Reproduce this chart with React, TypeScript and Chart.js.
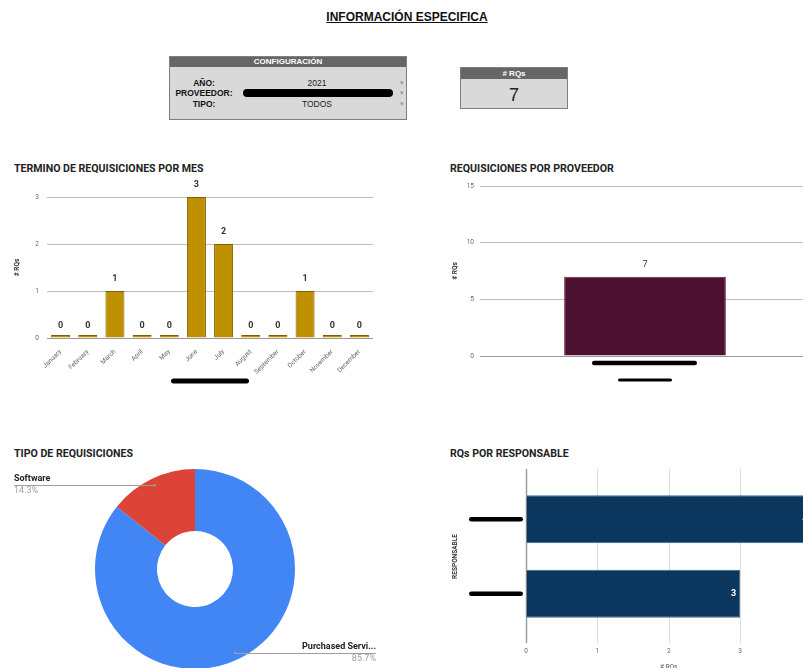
import React, { useEffect, useRef } from 'react';
import { Chart, registerables } from 'chart.js';

Chart.register(...registerables);
Chart.defaults.font.family = 'Roboto';

// ---------- DATA ----------
const pageTitle = 'INFORMACIÓN ESPECIFICA';
const configYear = '2021';
const configType = 'TODOS';
const totalRQs = 7;

const monthLabels = ['January', 'February', 'March', 'April', 'May', 'June', 'July', 'August', 'September', 'October', 'November', 'December'];
const monthValues = [0, 0, 1, 0, 0, 3, 2, 0, 0, 1, 0, 0];
const monthTicks = [0, 1, 2, 3];

const providerLabels = ['Proveedor'];
const providerValues = [7];
const providerTicks = [0, 5, 10, 15];

const typeLabels = ['Purchased Services', 'Software'];
const typeValues = [6, 1];

const responsableLabels = ['Responsable 1', 'Responsable 2'];
const responsableValues = [4, 3];
const responsableTicks = [0, 1, 2, 3, 4];

// ---------- HELPERS ----------
function blob(ctx: CanvasRenderingContext2D, x1: number, x2: number, y: number, h: number) {
  ctx.save();
  ctx.fillStyle = '#000';
  ctx.beginPath();
  ctx.roundRect(x1, y - h / 2, x2 - x1, h, h / 2);
  ctx.fill();
  ctx.restore();
}

const tickFont = { size: 6.5 };
const tickColor = '#666';

function topLabels(font: string, color: string, offset: number) {
  return {
    id: 'topLabels',
    afterDatasetsDraw(chart: any) {
      const { ctx } = chart;
      const yScale = chart.scales.y;
      const meta = chart.getDatasetMeta(0);
      const data = chart.data.datasets[0].data as number[];
      ctx.save();
      ctx.font = font;
      ctx.fillStyle = color;
      ctx.textAlign = 'center';
      ctx.textBaseline = 'middle';
      meta.data.forEach((bar: any, i: number) => {
        ctx.fillText(String(data[i]), bar.x, yScale.getPixelForValue(data[i]) - offset);
      });
      ctx.restore();
    },
  };
}

function ChartCanvas({ left, top, width, height, build }: any) {
  const ref = useRef<HTMLCanvasElement>(null);
  useEffect(() => {
    const chart = new Chart(ref.current as HTMLCanvasElement, build());
    return () => chart.destroy();
  }, []);
  return (
    <div style={{ position: 'absolute', left, top, width, height }}>
      <canvas ref={ref} width={width} height={height} style={{ width, height, display: 'block' }} />
    </div>
  );
}

// ---------- CHART CONFIGS ----------
function buildMonths(): any {
  return {
    type: 'bar',
    data: {
      labels: monthLabels,
      datasets: [{
        data: monthValues,
        backgroundColor: '#bf9000',
        borderColor: '#7f6000',
        borderWidth: 1,
        minBarLength: 3,
        categoryPercentage: 1,
        barPercentage: 0.7,
      }],
    },
    options: {
      responsive: false,
      animation: false,
      events: [],
      layout: { padding: { left: 0, right: 27, top: 37, bottom: 0 } },
      plugins: { legend: { display: false }, tooltip: { enabled: false } },
      scales: {
        x: {
          grid: { display: false },
          border: { display: false },
          ticks: { font: tickFont, color: tickColor, minRotation: 45, maxRotation: 45, autoSkip: false, padding: 2 },
          afterFit: (s: any) => { s.height = 57; },
        },
        y: {
          min: monthTicks[0],
          max: monthTicks[monthTicks.length - 1],
          ticks: { stepSize: monthTicks[1] - monthTicks[0], font: tickFont, color: tickColor, padding: 8 },
          grid: { color: (c: any) => (c.tick && c.tick.value === 0 ? '#999' : '#bdbdbd'), drawTicks: false },
          border: { display: false },
          title: { display: true, text: '# RQs', font: { size: 6.5, weight: 'bold' }, color: '#333', padding: { top: 13, bottom: 0 } },
          afterFit: (s: any) => { s.width = 47; },
        },
      },
    },
    plugins: [
      topLabels('bold 9px Roboto', '#333', 12),
      {
        id: 'axisBlob',
        afterDraw(chart: any) {
          const a = chart.chartArea;
          const cx = (a.left + a.right) / 2;
          blob(chart.ctx, cx - 39, cx + 39, a.bottom + 43, 5);
        },
      },
    ],
  };
}

function buildProvider(): any {
  return {
    type: 'bar',
    data: {
      labels: providerLabels,
      datasets: [{
        data: providerValues,
        backgroundColor: '#4c1130',
        borderColor: '#741b47',
        borderWidth: 1,
        categoryPercentage: 1,
        barPercentage: 0.49,
      }],
    },
    options: {
      responsive: false,
      animation: false,
      events: [],
      layout: { padding: { left: 0, right: 10, top: 26, bottom: 0 } },
      plugins: { legend: { display: false }, tooltip: { enabled: false } },
      scales: {
        x: {
          grid: { display: false },
          border: { display: false },
          ticks: { display: false },
          afterFit: (s: any) => { s.height = 39; },
        },
        y: {
          min: providerTicks[0],
          max: providerTicks[providerTicks.length - 1],
          ticks: { stepSize: providerTicks[1] - providerTicks[0], font: tickFont, color: tickColor, padding: 6 },
          grid: { color: (c: any) => (c.tick && c.tick.value === 0 ? '#999' : '#bdbdbd'), drawTicks: false },
          border: { display: false },
          title: { display: true, text: '# RQs', font: { size: 6.5, weight: 'bold' }, color: '#333', padding: { top: 11, bottom: 0 } },
          afterFit: (s: any) => { s.width = 40; },
        },
      },
    },
    plugins: [
      topLabels('9px Roboto', '#333', 12),
      {
        id: 'tickBlob',
        afterDraw(chart: any) {
          const a = chart.chartArea;
          const x = chart.scales.x;
          providerLabels.forEach((_, i) => {
            const cx = x.getPixelForValue(i);
            blob(chart.ctx, cx - 53, cx + 52, a.bottom + 7, 4.5);
            blob(chart.ctx, cx - 27, cx + 27, a.bottom + 24, 3);
          });
        },
      },
    ],
  };
}

function buildTypes(): any {
  const total = typeValues.reduce((s, v) => s + v, 0);
  return {
    type: 'doughnut',
    data: {
      labels: typeLabels,
      datasets: [{
        data: typeValues,
        backgroundColor: ['#4285f4', '#db4437'],
        borderWidth: 0,
      }],
    },
    options: {
      responsive: false,
      animation: false,
      events: [],
      cutout: '38%',
      layout: { padding: { left: 95, right: 105, top: 29, bottom: 11 } },
      plugins: { legend: { display: false }, tooltip: { enabled: false } },
    },
    plugins: [
      {
        id: 'leaderLabels',
        afterDraw(chart: any) {
          const { ctx } = chart;
          const meta = chart.getDatasetMeta(0);
          meta.data.forEach((arc: any, i: number) => {
            const p = arc.getProps(['x', 'y', 'startAngle', 'endAngle', 'outerRadius'], true);
            const mid = (p.startAngle + p.endAngle) / 2;
            const r = p.outerRadius * 0.93;
            const px = p.x + Math.cos(mid) * r;
            const py = p.y + Math.sin(mid) * r;
            const isLeft = px < p.x;
            const edge = isLeft ? 14 : 376;
            ctx.save();
            ctx.strokeStyle = '#9e9e9e';
            ctx.lineWidth = 1;
            ctx.beginPath();
            ctx.moveTo(edge, Math.round(py) + 0.5);
            ctx.lineTo(px, Math.round(py) + 0.5);
            ctx.stroke();
            ctx.fillStyle = '#9e9e9e';
            ctx.beginPath();
            ctx.arc(px, py, 1.2, 0, Math.PI * 2);
            ctx.fill();
            ctx.font = 'bold 9px Roboto';
            let name = typeLabels[i];
            const maxW = 78;
            if (ctx.measureText(name).width > maxW) {
              while (name.length > 1 && ctx.measureText(name + '...').width > maxW) name = name.slice(0, -1);
              name = name + '...';
            }
            ctx.textAlign = isLeft ? 'left' : 'right';
            ctx.textBaseline = 'middle';
            ctx.fillStyle = '#222';
            ctx.fillText(name, edge, py - 6);
            ctx.font = '9px Roboto';
            ctx.fillStyle = '#9e9e9e';
            ctx.fillText(((typeValues[i] / total) * 100).toFixed(1) + '%', edge, py + 6);
            ctx.restore();
          });
        },
      },
    ],
  };
}

function buildResponsable(): any {
  return {
    type: 'bar',
    data: {
      labels: responsableLabels,
      datasets: [{
        data: responsableValues,
        backgroundColor: '#0b375f',
        borderColor: '#3c6a96',
        borderWidth: 1,
        categoryPercentage: 1,
        barPercentage: 0.645,
      }],
    },
    options: {
      indexAxis: 'y',
      responsive: false,
      animation: false,
      events: [],
      layout: { padding: { left: 0, right: 8.5, top: 42, bottom: 9 } },
      plugins: { legend: { display: false }, tooltip: { enabled: false } },
      scales: {
        x: {
          min: responsableTicks[0],
          max: responsableTicks[responsableTicks.length - 1],
          ticks: { stepSize: 1, font: tickFont, color: tickColor, padding: 0 },
          grid: { display: true, color: 'rgba(0,0,0,0)', drawTicks: true, tickLength: 16 },
          border: { display: false },
          title: { display: true, text: '# RQs', font: { size: 6.5 }, color: '#555', padding: { top: 0, bottom: 0 } },
          afterFit: (s: any) => { s.height = 40; },
        },
        y: {
          ticks: { display: false },
          grid: { display: false },
          border: { display: false },
          title: { display: true, text: 'RESPONSABLE', font: { size: 6.5, weight: 'bold' }, color: '#333', padding: { top: 11, bottom: 0 } },
          afterFit: (s: any) => { s.width = 86; },
        },
      },
    },
    plugins: [
      {
        id: 'extGrid',
        beforeDatasetsDraw(chart: any) {
          const { ctx, chartArea: a } = chart;
          const x = chart.scales.x;
          ctx.save();
          x.ticks.forEach((t: any) => {
            const px = Math.round(x.getPixelForValue(t.value)) + 0.5;
            ctx.strokeStyle = t.value === 0 ? '#9e9e9e' : '#dcdcdc';
            ctx.lineWidth = t.value === 0 ? 1.5 : 1;
            ctx.beginPath();
            ctx.moveTo(px, a.top - 13);
            ctx.lineTo(px, a.bottom + 12);
            ctx.stroke();
          });
          ctx.restore();
        },
      },
      {
        id: 'barLabels',
        afterDatasetsDraw(chart: any) {
          const { ctx, chartArea: a } = chart;
          const y = chart.scales.y;
          const meta = chart.getDatasetMeta(0);
          ctx.save();
          ctx.font = 'bold 9px Roboto';
          ctx.fillStyle = '#fff';
          ctx.textAlign = 'right';
          ctx.textBaseline = 'middle';
          meta.data.forEach((bar: any, i: number) => {
            ctx.fillText(String(responsableValues[i]), bar.x - 4, bar.y);
          });
          ctx.restore();
          responsableLabels.forEach((_, i) => {
            const cy = y.getPixelForValue(i);
            blob(ctx, a.left - 57, a.left - 3, cy, 4.5);
          });
        },
      },
    ],
  };
}

// ---------- LAYOUT ----------
const arial = "'Liberation Sans', Arial, sans-serif";

function ChartTitle({ left, top, text }: any) {
  return (
    <div style={{ position: 'absolute', left, top, fontFamily: 'Roboto', fontWeight: 'bold', fontSize: 10.6, lineHeight: '12px', color: '#222', whiteSpace: 'nowrap' }}>
      {text}
    </div>
  );
}

function ConfigRow({ top, label, value, redacted }: any) {
  return (
    <>
      <div style={{ position: 'absolute', left: 0, width: 68, top, textAlign: 'center', fontWeight: 'bold', fontSize: 8.5, lineHeight: '10px', color: '#111' }}>{label}</div>
      {redacted ? (
        <div style={{ position: 'absolute', left: 73, top: top + 1, width: 150, height: 8, background: '#000', borderRadius: 4 }} />
      ) : (
        <div style={{ position: 'absolute', left: 97, width: 100, top, textAlign: 'center', fontSize: 8.5, lineHeight: '10px', color: '#222' }}>{value}</div>
      )}
      <div style={{ position: 'absolute', left: 230, top, fontSize: 7, lineHeight: '10px', color: '#999' }}>▾</div>
    </>
  );
}

export default function App() {
  return (
    <div style={{ position: 'fixed', left: 0, top: 0, width: 803, height: 668, overflow: 'hidden', background: '#fff' }}>
      <div style={{ position: 'absolute', left: 257, top: 10, width: 300, textAlign: 'center', fontFamily: arial, fontWeight: 'bold', fontSize: 12, lineHeight: '14px', color: '#111', textDecoration: 'underline' }}>
        {pageTitle}
      </div>

      {/* Configuration box */}
      <div style={{ position: 'absolute', left: 169, top: 56, width: 238, height: 64, boxSizing: 'border-box', border: '1px solid #7f7f7f', background: '#d9d9d9', fontFamily: arial }}>
        <div style={{ position: 'absolute', left: 0, top: 0, right: 0, height: 10, background: '#666', color: '#fff', fontWeight: 'bold', fontSize: 8, lineHeight: '10px', textAlign: 'center' }}>CONFIGURACIÓN</div>
        <ConfigRow top={21} label="AÑO:" value={configYear} />
        <ConfigRow top={31} label="PROVEEDOR:" redacted />
        <ConfigRow top={42} label="TIPO:" value={configType} />
      </div>

      {/* # RQs box */}
      <div style={{ position: 'absolute', left: 460, top: 67, width: 108, height: 42, boxSizing: 'border-box', border: '1px solid #7f7f7f', background: '#d9d9d9', fontFamily: arial }}>
        <div style={{ position: 'absolute', left: 0, top: 0, right: 0, height: 11, background: '#666', color: '#fff', fontWeight: 'bold', fontSize: 8, lineHeight: '11px', textAlign: 'center' }}># RQs</div>
        <div style={{ position: 'absolute', left: 0, right: 0, top: 17, textAlign: 'center', fontSize: 18, lineHeight: '20px', color: '#222' }}>{totalRQs}</div>
      </div>

      <ChartTitle left={14} top={163} text="TERMINO DE REQUISICIONES POR MES" />
      <ChartCanvas left={0} top={160} width={400} height={235} build={buildMonths} />

      <ChartTitle left={450} top={163} text="REQUISICIONES POR PROVEEDOR" />
      <ChartCanvas left={440} top={160} width={380} height={235} build={buildProvider} />

      <ChartTitle left={14} top={448} text="TIPO DE REQUISICIONES" />
      <ChartCanvas left={0} top={440} width={400} height={240} build={buildTypes} />

      <ChartTitle left={450} top={448} text="RQs POR RESPONSABLE" />
      <ChartCanvas left={440} top={440} width={380} height={240} build={buildResponsable} />
    </div>
  );
}
